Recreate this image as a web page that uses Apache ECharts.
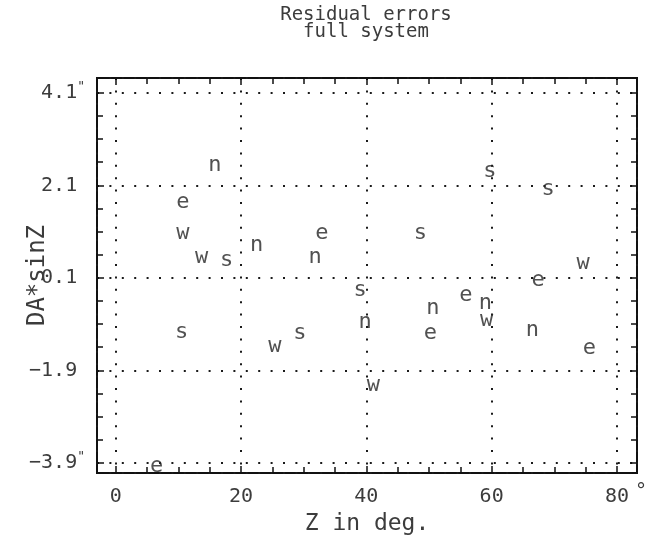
<!DOCTYPE html>
<html>
<head>
<meta charset="utf-8">
<script src="https://cdn.jsdelivr.net/npm/echarts@6/dist/echarts.min.js"></script>
<style>
  html, body { margin: 0; padding: 0; background: #fff; }
  #chart { width: 649px; height: 541px; }
</style>
</head>
<body>
<div id="chart"></div>
<script>
// Residuals of the full system, grouped by the letter plotted for each point.
// Z in degrees, DA*sinZ in arcseconds.
const eZ  = [6.5, 10.7, 32.9, 50.2, 55.9, 67.4, 75.6];
const eDA = [-3.97, 1.74, 1.06, -1.11, -0.28, 0.04, -1.43];
const wZ  = [10.7, 13.7, 25.4, 41.1, 59.2, 74.6];
const wDA = [1.06, 0.54, -1.37, -2.23, -0.82, 0.41];
const sZ  = [10.5, 17.7, 29.4, 39.0, 48.6, 59.7, 69.0];
const sDA = [-1.08, 0.48, -1.11, -0.17, 1.06, 2.41, 2.02];
const nZ  = [15.8, 22.5, 31.8, 39.8, 50.6, 59.0, 66.5];
const nDA = [2.54, 0.80, 0.54, -0.87, -0.56, -0.46, -1.04];

// Axis ticks
const xTicks = [0, 20, 40, 60, 80];
const yTicks = [-3.9, -1.9, 0.1, 2.1, 4.1];

// The y grid sits at 0.1 + multiples of 2; the axis is laid out in shifted
// units so the library's nice ticks land on those values.
const yBase = 0.1;
const yMin = -4.12, yMax = 4.42;
const xMin = -3, xMax = 83.2;

const FONT = '"DejaVu Sans Mono", "Liberation Mono", monospace';
const INK = '#3c3c3c';

function pts(zs, das) {
  return zs.map((z, i) => [z, das[i] - yBase]);
}

function letterSeries(letter, zs, das) {
  return {
    type: 'scatter',
    name: letter,
    data: pts(zs, das),
    symbol: 'circle',
    symbolSize: 2,
    itemStyle: { color: 'rgba(0,0,0,0)' },
    silent: true,
    label: {
      show: true,
      position: 'inside',
      formatter: letter,
      fontFamily: FONT,
      fontSize: 22,
      color: '#262626'
    },
    z: 5
  };
}

function fmtY(v) {
  const val = +(v + yBase).toFixed(1);
  if (!yTicks.some(t => Math.abs(t - val) < 1e-6)) return '';
  const txt = (val < 0 ? '\u2212' + Math.abs(val).toFixed(1) : val.toFixed(1));
  const edge = val === yTicks[0] || val === yTicks[yTicks.length - 1];
  return edge ? txt + '{sup|"}' : txt + '{gap| }';
}

function fmtX(v) {
  if (!xTicks.includes(v)) return '';
  // the last tick carries a raised degree mark; a blank lead keeps the digits centred
  return v === xTicks[xTicks.length - 1] ? '{pad|}' + v + '{deg|\u00b0}' : String(v);
}

const gridDots = { show: true, lineStyle: { color: '#1a1a1a', width: 2, type: [2, 10.4] } };
const frameTick = { show: true, inside: true, length: 7, lineStyle: { color: '#111', width: 1.5 } };
const frameMinor = { show: true, splitNumber: 4, length: 6, lineStyle: { color: '#111', width: 1.5 } };
const hiddenLine = { show: false, onZero: false };

const chart = echarts.init(document.getElementById('chart'), null, { renderer: 'canvas' });
chart.setOption({
  backgroundColor: '#fff',
  animation: false,
  graphic: [
    { type: 'text', x: 366, y: 6, style: { text: 'Residual errors', textAlign: 'center', font: '19px ' + FONT, fill: INK } },
    { type: 'text', x: 366, y: 23, style: { text: 'full system', textAlign: 'center', font: '19px ' + FONT, fill: INK } }
  ],
  grid: {
    left: 97, right: 12, top: 78, bottom: 68,
    outerBoundsMode: 'none', containLabel: false,
    show: true, borderColor: '#111', borderWidth: 2, backgroundColor: 'transparent'
  },
  xAxis: [
    {
      type: 'value', min: xMin, max: xMax, splitNumber: 5,
      name: 'Z in deg.', nameLocation: 'middle', nameGap: 40, nameMoveOverlap: false,
      nameTextStyle: { fontFamily: FONT, fontSize: 23, color: INK },
      axisLine: hiddenLine,
      axisTick: frameTick,
      minorTick: frameMinor,
      splitLine: gridDots,
      axisLabel: {
        showMinLabel: false, showMaxLabel: false, margin: 9,
        fontFamily: FONT, fontSize: 20, lineHeight: 30, color: INK,
        formatter: fmtX,
        rich: {
          pad: { width: 18, lineHeight: 30 },
          deg: { fontFamily: FONT, fontSize: 20, lineHeight: 18, color: INK, verticalAlign: 'top', padding: [0, 0, 0, 6] }
        }
      }
    },
    {
      type: 'value', position: 'top', min: xMin, max: xMax, splitNumber: 5,
      axisLine: hiddenLine,
      axisTick: frameTick,
      minorTick: frameMinor,
      splitLine: { show: false },
      axisLabel: { show: false }
    }
  ],
  yAxis: [
    {
      type: 'value', min: yMin - yBase, max: yMax - yBase, splitNumber: 4,
      name: 'DA*sinZ', nameLocation: 'middle', nameGap: 47, nameRotate: 90, nameMoveOverlap: false,
      nameTextStyle: { fontFamily: FONT, fontSize: 24, color: INK },
      axisLine: hiddenLine,
      axisTick: frameTick,
      minorTick: frameMinor,
      splitLine: gridDots,
      axisLabel: {
        showMinLabel: false, showMaxLabel: false, margin: 12,
        fontFamily: FONT, fontSize: 20, color: INK,
        formatter: fmtY,
        rich: {
          sup: { fontFamily: FONT, fontSize: 13, color: INK, verticalAlign: 'top', padding: [0, 0, 12, 0] },
          gap: { fontFamily: FONT, fontSize: 13, color: INK }
        }
      }
    },
    {
      type: 'value', position: 'right', min: yMin - yBase, max: yMax - yBase, splitNumber: 4,
      axisLine: hiddenLine,
      axisTick: frameTick,
      minorTick: frameMinor,
      splitLine: { show: false },
      axisLabel: { show: false }
    }
  ],
  series: [
    letterSeries('e', eZ, eDA),
    letterSeries('w', wZ, wDA),
    letterSeries('s', sZ, sDA),
    letterSeries('n', nZ, nDA)
  ]
});
</script>
</body>
</html>
